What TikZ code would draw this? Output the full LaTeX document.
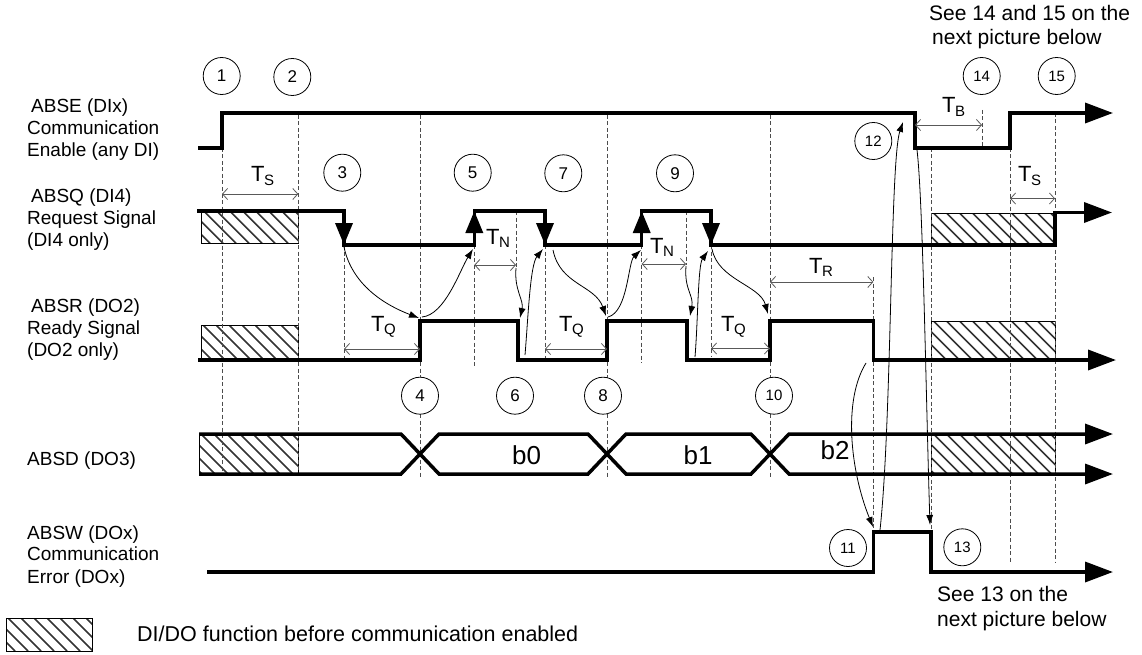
\documentclass[tikz,border=0pt]{standalone}
\usepackage{fontspec}
\setmainfont{Liberation Sans}
\usetikzlibrary{arrows.meta}
\newcommand\tlab[1]{T\kern-0.5pt\raisebox{-3.5pt}{\fontsize{15}{15}\selectfont #1}}
\newcommand\hatchrect[4]{%
  \begin{scope}
    \clip (#1,#2) rectangle (#3,#4);
    \foreach \k in {-50,-37,...,150} {
      \draw[hatchline] ({#1+\k},#2) -- ({#1+\k+(#4-#2)},#4);
    }
  \end{scope}
  \draw[line width=0.8pt] (#1,#2) rectangle (#3,#4);}
\begin{document}
\begin{tikzpicture}[x=1pt,y=-1pt,
  hatchline/.style={black!80,line width=1.6pt},
  sig/.style={line width=3.5pt,line join=miter},
  endarr/.style={-{Triangle[length=28pt,width=20pt]}},
  edgearr/.style={line width=3.5pt,-{Triangle[length=22pt,width=17pt]}},
  dim/.style={black!65,line width=0.8pt,{Straight Barb[length=5pt,width=11pt]}-{Straight Barb[length=5pt,width=11pt]}},
  guide/.style={black!70,line width=0.8pt,dash pattern=on 4pt off 2.5pt},
  cause/.style={line width=0.8pt,-{Latex[length=10pt,width=7pt]}},
  num/.style={circle,draw,line width=0.8pt,fill=white,minimum size=37pt,inner sep=0pt,font=\fontsize{17}{17}\selectfont},
  numsm/.style={num,font=\fontsize{15}{15}\selectfont},
  lbl/.style={inner sep=0pt,anchor=base west,font=\fontsize{19}{22}\selectfont},
  note/.style={inner sep=0pt,anchor=base west,font=\fontsize{21}{24}\selectfont},
  tl/.style={inner sep=0pt,anchor=base west,font=\fontsize{22}{22}\selectfont},
  buslbl/.style={inner sep=0pt,font=\fontsize{26}{26}\selectfont}]
\useasboundingbox (0,0) rectangle (1142,655);

% hatched areas
\hatchrect{201.7}{211}{298.3}{243.3}
\hatchrect{201.7}{325.7}{298.3}{358.3}
\hatchrect{199}{434}{298.3}{474}
\hatchrect{931.5}{213}{1055}{245}
\hatchrect{931.5}{321}{1055}{360}
\hatchrect{931.5}{434}{1055}{474}
\hatchrect{6}{618}{92}{651}

% guide lines
\draw[guide] (222,148) -- (222,476);
\draw[guide] (298.3,115) -- (298.3,476);
\draw[guide] (344,245) -- (344,359);
\draw[guide] (420,115) -- (420,477);
\draw[guide] (474.3,245) -- (474.3,367);
\draw[guide] (516,211) -- (516,268);
\draw[guide] (545,245) -- (545,360);
\draw[guide] (607,115) -- (607,477);
\draw[guide] (641.7,245) -- (641.7,363);
\draw[guide] (686,211) -- (686,265);
\draw[guide] (711,245) -- (711,357);
\draw[guide] (770,115) -- (770,477);
\draw[guide] (873.3,277) -- (873.3,532);
\draw[guide] (931,148) -- (931,532);
\draw[guide] (982,110) -- (982,148);
\draw[guide] (1010,148) -- (1010,563);
\draw[guide] (1055,113) -- (1055,563);

% signals
\draw[sig,endarr] (198,148) -- (222,148) -- (222,113) -- (915,113) -- (915,148) -- (1010,148) -- (1010,113) -- (1113,113);
\draw[sig,endarr] (197,211) -- (344,211) -- (344,245) -- (474.3,245) -- (474.3,211) -- (545,211) -- (545,245) -- (641.7,245) -- (641.7,211) -- (711,211) -- (711,245) -- (1055,245) -- (1055,212.5) -- (1112,212.5);
\draw[edgearr] (344,215) -- (344,245);
\draw[edgearr] (474.3,240) -- (474.3,211);
\draw[edgearr] (545,215) -- (545,245);
\draw[edgearr] (641.7,240) -- (641.7,211);
\draw[edgearr] (711,215) -- (711,245);
\draw[sig,endarr] (198,360) -- (420,360) -- (420,321) -- (518,321) -- (518,360) -- (607,360) -- (607,321) -- (687,321) -- (687,360) -- (770,360) -- (770,321) -- (873.3,321) -- (873.3,360) -- (1116,360);
\draw[sig,endarr] (199,434) -- (401,434) -- (439,474) -- (588,474) -- (626,434) -- (751,434) -- (789,474) -- (1113,474);
\draw[sig,endarr] (199,474) -- (401,474) -- (439,434) -- (588,434) -- (626,474) -- (751,474) -- (789,434) -- (1113,434);
\draw[sig,endarr] (207,572) -- (873.3,572) -- (873.3,532) -- (931,532) -- (931,572) -- (1113,572);

% dimension arrows
\draw[dim] (222,194) -- (298.3,194);
\draw[dim] (474.3,265) -- (516,265);
\draw[dim] (641.7,264) -- (686,264);
\draw[dim] (344,349) -- (420,349);
\draw[dim] (545,349) -- (607,349);
\draw[dim] (711,348.5) -- (770,348.5);
\draw[dim] (770,282) -- (873.3,282);
\draw[dim] (915,125) -- (982,125);
\draw[dim] (1010,198.5) -- (1055,198.5);

\node[tl] (ts1) at (251,182) {\tlab{S}};
\node[tl] (tn1) at (486,244) {\tlab{N}};
\node[tl] (tn2) at (650,253) {\tlab{N}};
\node[tl] (tq1) at (371,331) {\tlab{Q}};
\node[tl] (tq2) at (559,331) {\tlab{Q}};
\node[tl] (tq3) at (721,331) {\tlab{Q}};
\node[tl] (tr) at (809,273) {\tlab{R}};
\node[tl] (tb) at (942,113) {\tlab{B}};
\node[tl] (ts2) at (1018,182) {\tlab{S}};

% cause arrows
\draw[cause] (344,247) .. controls (352,285) and (385,305) .. (419,318);
\draw[cause] (422,317) .. controls (445,315) and (460,270) .. (473,249);
\draw[cause] (516,268) .. controls (514,290) and (524,300) .. (520,318);
\draw[cause] (525,355) .. controls (528,320) and (530,265) .. (543,249);
\draw[cause] (553,250) .. controls (560,285) and (595,285) .. (606,316);
\draw[cause] (608,317) .. controls (628,312) and (628,262) .. (641,250);
\draw[cause] (686,266) .. controls (684,290) and (694,295) .. (690,316);
\draw[cause] (695,357) .. controls (698,320) and (698,265) .. (708,251);
\draw[cause] (712,249) .. controls (718,280) and (760,285) .. (768,314);
\draw[cause] (866,363) .. controls (843,400) and (850,470) .. (873,527);
\draw[cause] (880,530) .. controls (892,420) and (890,160) .. (903,122);
\draw[cause] (917,150) .. controls (923,200) and (926,400) .. (930,525);

% bus labels
\node[buslbl] (b0) at (526.7,455) {b0};
\node[buslbl] (b1) at (698,455) {b1};
\node[buslbl] (b2) at (835,450) {b2};

% numbered circles
\node[num] (n1) at (221.7,76) {1};
\node[num] (n2) at (292.3,77) {2};
\node[num] (n3) at (342.3,172.7) {3};
\node[num] (n5) at (472.7,172.7) {5};
\node[num] (n7) at (563.3,173.3) {7};
\node[num] (n9) at (675,173.3) {9};
\node[numsm] (n12) at (873.3,141) {12};
\node[numsm] (n14) at (981.7,76) {14};
\node[numsm] (n15) at (1056.7,76) {15};
\node[num] (n4) at (420,395.7) {4};
\node[num] (n6) at (515,395.7) {6};
\node[num] (n8) at (603,395.7) {8};
\node[numsm] (n10) at (774,395.7) {10};
\node[numsm] (n11) at (848,548) {11};
\node[numsm] (n13) at (962.3,547.3) {13};

% signal labels
\node[lbl] (l1a) at (31,113) {ABSE (DIx)};
\node[lbl] (l1b) at (27,135) {Communication};
\node[lbl] (l1c) at (27,157) {Enable (any DI)};
\node[lbl] (l2a) at (31,202) {ABSQ (DI4)};
\node[lbl] (l2b) at (27,224) {Request Signal};
\node[lbl] (l2c) at (27,246) {(DI4 only)};
\node[lbl] (l3a) at (31,312) {ABSR (DO2)};
\node[lbl] (l3b) at (27,334) {Ready Signal};
\node[lbl] (l3c) at (27,356) {(DO2 only)};
\node[lbl] (l4) at (27,465) {ABSD (DO3)};
\node[lbl] (l5a) at (27,539) {ABSW (DOx)};
\node[lbl] (l5b) at (27,560) {Communication};
\node[lbl] (l5c) at (27,583) {Error (DOx)};

% notes
\node[note] (t1) at (929,21) {See 14 and 15 on the};
\node[note] (t2) at (932,45) {next picture below};
\node[note] (t3) at (937,601) {See 13 on the};
\node[note] (t4) at (937,626) {next picture below};
\node[note,font=\fontsize{21.5}{24}\selectfont] (leg) at (137,641) {DI/DO function before communication enabled};
\end{tikzpicture}
\end{document}
